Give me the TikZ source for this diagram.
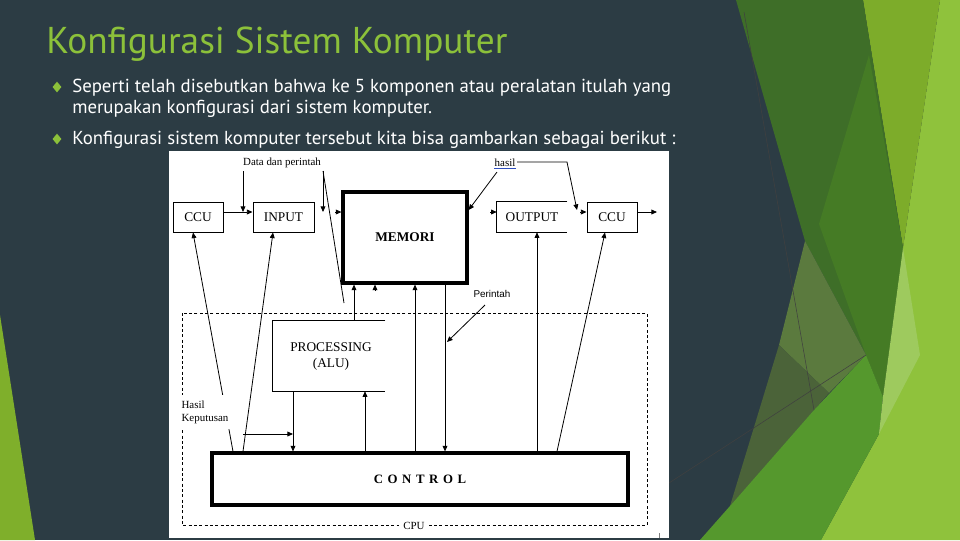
\documentclass[tikz,border=0pt]{standalone}
\usepackage{fontspec}
\setmainfont{PT Sans}
\newfontfamily\serifd{Liberation Serif}
\newfontfamily\sansd{Liberation Sans}
\usetikzlibrary{arrows.meta,shapes.geometric,calc}
\definecolor{slate}{HTML}{2C3C44}
\definecolor{titlegreen}{HTML}{8CC13A}
\definecolor{bulletgreen}{HTML}{8CC13A}
\definecolor{lgreen}{HTML}{8FC23C}
\definecolor{olive}{HTML}{7DAC2A}
\definecolor{dgreen}{HTML}{3E6E28}
\definecolor{mgreen}{HTML}{457B25}
\definecolor{ogray}{HTML}{5B7A3E}
\definecolor{dggreen}{HTML}{4B6339}
\definecolor{bgreen}{HTML}{55982D}
\definecolor{pale}{HTML}{9ECA5E}
\definecolor{leftgreen}{HTML}{7FAF2B}
\definecolor{linkblue}{HTML}{3050C0}
\begin{document}
\begin{tikzpicture}[x=0.75pt,y=-0.75pt,
  box/.style={draw,line width=0.7pt,inner sep=0pt,font=\serifd\fontsize{10}{12}\selectfont},
  openbox/.style={inner sep=0pt,font=\serifd\fontsize{10}{12}\selectfont},
  thickbox/.style={draw,line width=2.4pt,inner sep=0pt,font=\serifd\bfseries\fontsize{10}{12}\selectfont},
  lbl/.style={inner sep=0pt,font=\serifd\fontsize{8.2}{9.8}\selectfont},
  arr/.style={line width=0.6pt,-{Triangle[length=4.2pt,width=3.6pt]}},
  ln/.style={line width=0.6pt},
  bullet/.style={diamond,fill=bulletgreen,inner sep=0pt,minimum width=6.8pt,minimum height=8.2pt},
  btext/.style={anchor=base west,text=white,inner sep=0pt,font=\fontsize{14.1}{16}\selectfont}
]
\useasboundingbox (0,0) rectangle (960,540);
% background
\fill[slate] (0,0) rectangle (960,540);
\fill[leftgreen] (0,315) -- (35,540) -- (0,540) -- cycle;
% right decoration
\fill[lgreen] (940,0) -- (960,0) -- (960,540) -- (821,540) -- (879,434) -- (903,248) -- cycle;
\fill[olive] (863,0) -- (940,0) -- (903,248) -- cycle;
\fill[dgreen] (736,0) -- (863,0) -- (903,248) -- (883,397) -- (866,355) -- (805,241) -- cycle;
\fill[mgreen] (869,55) -- (903,248) -- (883,397) -- (866,355) -- (819,224) -- cycle;
\fill[ogray] (805,241) -- (866,355) -- (829,393) -- (779,345) -- cycle;
\fill[dggreen] (779,345) -- (829,393) -- (814,410) -- (730,506) -- cycle;
\fill[bgreen] (814,410) -- (866,355) -- (883,397) -- (879,434) -- (821,540) -- (700,540) -- (730,506) -- cycle;
\fill[pale] (903,248) -- (920,355) -- (879,434) -- (883,397) -- cycle;
\draw[black!75,line width=0.4pt] (744,12) -- (814,410);
\draw[black!75,line width=0.4pt] (866,355) -- (669,483);
% diagram paper
\fill[white] (169,151) rectangle (669,538);
\draw[black!50,line width=0.4pt] (659,533) -- (659,538);
% title and bullets
\node[anchor=base west,text=titlegreen,inner sep=0pt,font=\fontsize{28}{32}\selectfont] (title) at (46,53) {Konfigurasi Sistem Komputer};
\node[bullet] (d1) at (57,87) {};
\node[bullet] (d2) at (57,139) {};
\node[btext] (b1a) at (72,92) {Seperti telah disebutkan bahwa ke 5 komponen atau peralatan itulah yang};
\node[btext] (b1b) at (72,113) {merupakan konfigurasi dari sistem komputer.};
\node[btext] (b2) at (72,144) {Konfigurasi sistem komputer tersebut kita bisa gambarkan sebagai berikut :};
% CPU dashed frame
\draw[line width=0.6pt,dash pattern=on 2.2pt off 1.8pt] (182,313) rectangle (647,525);
% boxes
\node[box,minimum width=37.5pt,minimum height=22.5pt] (ccuL) at (198,217) {CCU};
\node[box,minimum width=45.75pt,minimum height=22.5pt] (input) at (283.5,217) {INPUT};
\node[thickbox,minimum width=93pt,minimum height=68.25pt] (memori) at (405,237.5) {MEMORI};
\node[openbox,minimum width=52.5pt,minimum height=22.5pt] (output) at (532,217) {OUTPUT};
\draw[line width=0.7pt] (output.north east) -- (output.north west) -- (output.south west) -- (output.south east);
\node[box,minimum width=37.5pt,minimum height=22.5pt] (ccuR) at (612,217) {CCU};
\node[openbox,minimum width=84pt,minimum height=52.5pt,align=center] (proc) at (331,356) {PROCESSING\\(ALU)};
\draw[line width=0.7pt] ([xshift=-1.5pt]proc.north east) -- ([xshift=-1.5pt]proc.north west) -- ([xshift=-1.5pt]proc.south west) -- ([xshift=-1.5pt]proc.south east);
\node[thickbox,minimum width=312pt,minimum height=39pt,font=\serifd\bfseries\fontsize{9.6}{12}\selectfont] (control) at (420,479) {\addfontfeature{LetterSpace=36}CONTROL};
% coordinates
\coordinate (h212) at (0,212);
\coordinate (dpL) at (243,171);
\coordinate (dpR) at (323,171);
\coordinate (dpEnd) at (344,303);
\coordinate (hsL) at (497,172);
\coordinate (hsR) at (517,162);
\coordinate (hsK) at (567,162);
\coordinate (hsEnd) at (577,210);
\coordinate (prS) at (485,305);
\coordinate (prE) at (447,342);
\coordinate (hkS) at (243,434);
% top connectors
\draw[arr] (ccuL.east |- h212) -- (input.west |- h212);
\draw[arr] (dpL) -- (dpL |- h212);
\draw[arr] (dpR) -- (dpR |- h212);
\draw[ln] (dpR) -- (dpEnd);
\draw[arr] (335,212) -- (memori.west |- h212);
\draw[arr] (hsL) -- (memori.east |- 0,210);
\draw[arr] (hsR) -- (hsK) -- (hsEnd);
\draw[arr] (490,212) -- (output.west |- h212);
\draw[arr] (580,212) -- (ccuR.west |- h212);
\draw[arr] (ccuR.east |- h212) -- (657,212);
% vertical connectors
\draw[arr] (354,0 |- proc.north) -- (354,0 |- memori.south);
\draw[arr] (375,291) -- (375,0 |- memori.south);
\draw[arr] (415,0 |- control.north) -- (415,0 |- memori.south);
\draw[arr] (445,0 |- memori.south) -- (445,0 |- control.north);
\draw[arr] (537,0 |- control.north) -- (537,0 |- output.south);
\draw[arr] (557,0 |- control.north) -- (605,0 |- ccuR.south);
\draw[arr] (365,0 |- control.north) -- (365,0 |- proc.south);
\draw[arr] (293,0 |- proc.south) -- (293,0 |- control.north);
\draw[arr] (hkS) -- (293,434);
\draw[arr] (233,0 |- control.north) -- (193,0 |- ccuL.south);
\draw[arr] (243,0 |- control.north) -- (273,0 |- input.south);
\draw[arr] (prS) -- (prE);
% labels
\node[lbl] (dp) at (282,163) {Data dan perintah};
\node[lbl] (hasil) at (505,163) {hasil};
\draw[linkblue,line width=0.4pt] ([yshift=-1pt]hasil.south west) -- ([yshift=-1pt]hasil.south east);
\node[inner sep=0pt,font=\sansd\fontsize{7.4}{9}\selectfont] (perintah) at (492,294) {Perintah};
\node[lbl,fill=white,anchor=west,align=left,inner xsep=1pt,inner ysep=4pt] (hk) at (180,412) {Hasil\\Keputusan};
\node[lbl,fill=white,inner xsep=3pt,inner ysep=1pt] (cpu) at (414,526) {CPU};
\end{tikzpicture}
\end{document}
